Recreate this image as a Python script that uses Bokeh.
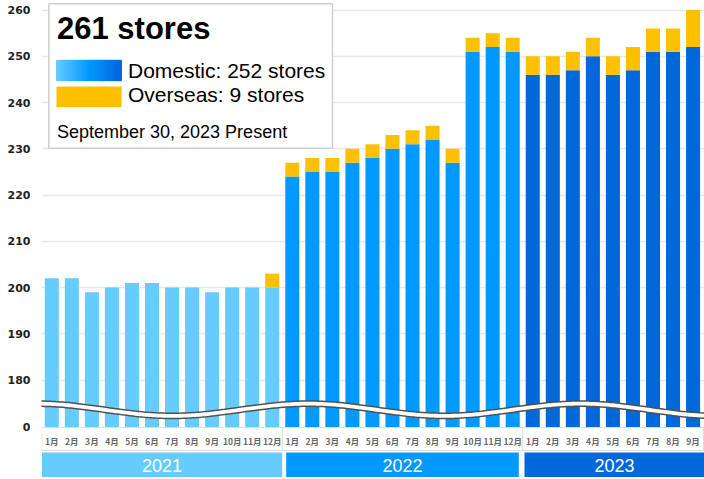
import numpy as np
from bokeh.plotting import figure
from bokeh.models import Range1d, FixedTicker, ColumnDataSource, CustomJSTickFormatter
from bokeh.core.properties import value
from bokeh.embed import file_html
from bokeh.resources import INLINE

# ---------------- data ----------------
years = ["2021", "2022", "2023"]
months_2021 = ["1月", "2月", "3月", "4月", "5月", "6月", "7月", "8月", "9月", "10月", "11月", "12月"]
months_2022 = ["1月", "2月", "3月", "4月", "5月", "6月", "7月", "8月", "9月", "10月", "11月", "12月"]
months_2023 = ["1月", "2月", "3月", "4月", "5月", "6月", "7月", "8月", "9月"]
domestic = [202, 202, 199, 200, 201, 201, 200, 200, 199, 200, 200, 200,
            224, 225, 225, 227, 228, 230, 231, 232, 227, 251, 252, 251,
            246, 246, 247, 250, 246, 247, 251, 251, 252]
overseas = [0, 0, 0, 0, 0, 0, 0, 0, 0, 0, 0, 3,
            3, 3, 3, 3, 3, 3, 3, 3, 3, 3, 3, 3,
            4, 4, 4, 4, 4, 5, 5, 5, 8]
y_ticks = [180, 190, 200, 210, 220, 230, 240, 250, 260]
title_text = "261 stores"
legend_domestic = "Domestic: 252 stores"
legend_overseas = "Overseas: 9 stores"
date_text = "September 30, 2023 Present"

# ---------------- styling / layout ----------------
year_colors = ["#66ccff", "#0099ff", "#0068d9"]
overseas_color = "#ffc000"

W, H = 704, 479
PX_L, PX_R, PX_T, PX_B = 41, 704, 0, 479
BAR0_PX, PITCH = 51.3, 20.04
Y260_PX, PPU = 9.5, 4.625

X0 = -(BAR0_PX - PX_L) / PITCH
X1 = X0 + (PX_R - PX_L) / PITCH
Y1 = 260 + (Y260_PX - PX_T) / PPU
Y0 = 260 - (PX_B - Y260_PX) / PPU


def px2x(px):
    return X0 + (px - PX_L) / PITCH


def px2y(py):
    return 260 - (py - Y260_PX) / PPU


BASE = 169.75  # axis position standing for "0" after the axis break

month_labels = months_2021 + months_2022 + months_2023
counts = [len(months_2021), len(months_2022), len(months_2023)]
xs = list(range(len(domestic)))
bar_colors = []
for c, n in zip(year_colors, counts):
    bar_colors += [c] * n

p = figure(width=W, height=H, x_range=Range1d(X0, X1), y_range=Range1d(Y0, Y1),
           output_backend="svg", toolbar_location=None,
           min_border_left=PX_L, min_border_right=0, min_border_top=0, min_border_bottom=0)
p.outline_line_color = None
p.background_fill_color = "white"
p.xaxis.visible = False
p.xgrid.visible = False

p.yaxis.ticker = FixedTicker(ticks=[BASE] + y_ticks)
p.yaxis.formatter = CustomJSTickFormatter(code="return tick < 175 ? '0' : tick.toFixed(0);")
p.yaxis.axis_line_color = None
p.yaxis.major_tick_line_color = None
p.yaxis.minor_tick_line_color = None
p.yaxis.major_tick_out = 0
p.yaxis.major_label_standoff = 11
p.yaxis.major_label_text_font = "DejaVu Sans"
p.yaxis.major_label_text_font_style = "bold"
p.yaxis.major_label_text_font_size = "11px"
p.yaxis.major_label_text_color = "#222222"
p.ygrid.ticker = FixedTicker(ticks=y_ticks)
p.ygrid.grid_line_color = "#e8e8e8"
p.ygrid.grid_line_width = 1.5

# bars
dsrc = ColumnDataSource(dict(x=xs, top=domestic, bottom=[BASE] * len(xs), color=bar_colors))
p.vbar(x="x", top="top", bottom="bottom", width=0.7, fill_color="color", line_color=None, source=dsrc)
ox, ob, ot = [], [], []
for i, (d, o) in enumerate(zip(domestic, overseas)):
    if o > 0:
        ox.append(i)
        ob.append(d)
        ot.append(d + o)
osrc = ColumnDataSource(dict(x=ox, top=ot, bottom=ob))
p.vbar(x="x", top="top", bottom="bottom", width=0.7, fill_color=overseas_color, line_color=None, source=osrc)

# axis break wave
wpx = np.arange(36, 706, 2.0)
top_py = 406.6 - 6.1 * np.cos(2 * np.pi * (wpx - 36) / 272.0)
bot_py = top_py + 5.3
wx = [px2x(v) for v in wpx]
wt = [px2y(v) for v in top_py]
wb = [px2y(v) for v in bot_py]
p.patch(wx + wx[::-1], wt + wb[::-1], fill_color="white", line_color=None)
p.line(wx, wt, line_color="#505050", line_width=1.5)
p.line(wx, wb, line_color="#505050", line_width=1.5)

# month label row boxes
start = 0
box_l, box_r = [], []
for n in counts:
    box_l.append(start - 0.5)
    box_r.append(start + n - 0.5)
    start += n
box_r[-1] = px2x(703)
p.quad(left=box_l, right=box_r, top=[px2y(427)] * 3, bottom=[px2y(450)] * 3,
       fill_color="white", line_color="#dddddd", line_width=1)
p.text(x=xs, y=[px2y(440)] * len(xs), text=month_labels, text_align="center",
       text_baseline="middle", text_font=value("Noto Sans CJK JP"), text_font_size="8.5px",
       text_font_style="bold", text_color="#666666")

# year bands
band_l = [px2x(41.5), px2x(285.7), px2x(524)]
band_r = [px2x(281.7), px2x(518.3), px2x(704)]
p.quad(left=band_l, right=band_r, top=[px2y(452)] * 3, bottom=[px2y(476.5)] * 3,
       fill_color=year_colors, line_color=None)
p.text(x=[(a + b) / 2 for a, b in zip(band_l, band_r)], y=[px2y(464.5)] * 3, text=years,
       text_align="center", text_baseline="middle", text_font=value("Liberation Sans"),
       text_font_size="18px", text_color="white")

# legend box
p.quad(left=[px2x(48.3)], right=[px2x(332)], top=[px2y(3.3)], bottom=[px2y(147.7)],
       fill_color="white", line_color="#d0d0d0", line_width=1.5)


def lerp_color(t):
    stops = [(0.0, (102, 204, 255)), (0.5, (0, 153, 255)), (1.0, (0, 102, 221))]
    for (t0, c0), (t1, c1) in zip(stops[:-1], stops[1:]):
        if t <= t1:
            f = (t - t0) / (t1 - t0)
            c = [round(a + (b - a) * f) for a, b in zip(c0, c1)]
            return "#%02x%02x%02x" % tuple(c)
    return "#%02x%02x%02x" % stops[-1][1]


nseg = 40
seg_px = np.linspace(56, 121, nseg + 1)
seg_cols = [lerp_color((i + 0.5) / nseg) for i in range(nseg)]
p.quad(left=[px2x(v) for v in seg_px[:-1]], right=[px2x(v) for v in seg_px[1:]],
       top=[px2y(59.8)] * nseg, bottom=[px2y(80.2)] * nseg,
       fill_color=seg_cols, line_color=seg_cols, line_width=1)
p.quad(left=[px2x(56)], right=[px2x(121)], top=[px2y(86)], bottom=[px2y(106.7)],
       fill_color=overseas_color, line_color=None)

p.text(x=[px2x(56.5)], y=[px2y(28.3)], text=[title_text], text_align="left",
       text_baseline="middle", text_font=value("Liberation Sans"), text_font_size="31px",
       text_font_style="bold", text_color="black")
p.text(x=[px2x(127.5), px2x(127.5)], y=[px2y(70.2), px2y(94.4)],
       text=[legend_domestic, legend_overseas], text_align="left", text_baseline="middle",
       text_font=value("Liberation Sans"), text_font_size="21px", text_color="black")
p.text(x=[px2x(56.5)], y=[px2y(131.3)], text=[date_text], text_align="left",
       text_baseline="middle", text_font=value("Liberation Sans"), text_font_size="18px",
       text_color="black")

open("out.html", "w").write(file_html(p, INLINE))
